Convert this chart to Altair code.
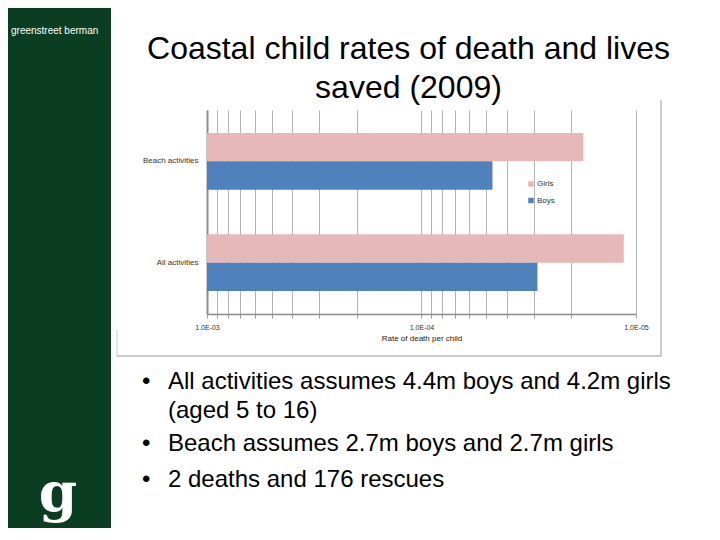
import altair as alt
import pandas as pd

# ---- data ----
categories = ["Beach activities", "All activities"]
series = ["Girls", "Boys"]
girls_rate = [1.76e-5, 1.14e-5]
boys_rate = [4.67e-5, 2.88e-5]
tick_values = [1e-3, 9e-4, 8e-4, 7e-4, 6e-4, 5e-4, 4e-4, 3e-4, 2e-4,
               1e-4, 9e-5, 8e-5, 7e-5, 6e-5, 5e-5, 4e-5, 3e-5, 2e-5, 1e-5]
title_lines = ["Coastal child rates of death and lives", "saved (2009)"]
bullet_lines = ["All activities assumes 4.4m boys and 4.2m girls",
                "(aged 5 to 16)",
                "Beach assumes 2.7m boys and 2.7m girls",
                "2 deaths and 176 rescues"]
brand = "greenstreet berman"

rows = []
for i, c in enumerate(categories):
    rows.append({"activity": c, "sex": "Girls", "rate": girls_rate[i]})
    rows.append({"activity": c, "sex": "Boys", "rate": boys_rate[i]})
df = pd.DataFrame(rows)

FONT = "Liberation Sans"
GREEN = "#0b3d22"

label_expr = ("abs(log(datum.value)/LN10 - round(log(datum.value)/LN10)) < 0.001 ? "
              "'1.0E-0' + (-round(log(datum.value)/LN10)) : ''")

bars = alt.Chart(df).mark_bar().encode(
    y=alt.Y("activity:N", sort=categories,
            scale=alt.Scale(paddingInner=0.44, paddingOuter=0.226),
            axis=alt.Axis(title=None, ticks=False, labelPadding=9, labelFontSize=8,
                          labelColor="#333333", domainColor="#8c8c8c", domainWidth=2,
                          labelFont=FONT)),
    yOffset=alt.YOffset("sex:N", sort=series,
                        scale=alt.Scale(paddingInner=0, paddingOuter=0)),
    x=alt.X("rate:Q",
            scale=alt.Scale(type="log", domain=[1e-5, 1e-3], reverse=True, nice=False),
            axis=alt.Axis(values=tick_values, labelExpr=label_expr, grid=True,
                          gridColor="#b3b3b3", gridWidth=1, tickSize=4,
                          tickColor="#a0a0a0", domainColor="#8c8c8c", domainWidth=1.5,
                          labelFontSize=7, labelColor="#333333", labelPadding=5,
                          labelOverlap=False, labelFlush=False, labelFont=FONT,
                          title="Rate of death per child", titleFontSize=8,
                          titleFontWeight="normal", titleColor="#222222",
                          titlePadding=4, titleFont=FONT)),
    x2=alt.datum(0.001),
    color=alt.Color("sex:N", sort=series,
                    scale=alt.Scale(domain=series, range=["#e6b9b8", "#4f81bd"]),
                    legend=alt.Legend(title=None, orient="none", legendX=320, legendY=70,
                                      symbolType="square", symbolSize=30,
                                      labelFontSize=8, labelFont=FONT, labelOffset=2,
                                      rowPadding=8.5, padding=0,
                                      labelColor="#333333")),
)

one = alt.Data(values=[{"k": 1}])

panel = alt.Chart(one).mark_rect(color=GREEN).encode(
    x=alt.value(-210), x2=alt.value(-96), y=alt.value(-112), y2=alt.value(440))

box_right = alt.Chart(one).mark_rule(color="#9a9a9a", strokeWidth=1).encode(
    x=alt.value(454), y=alt.value(-10), y2=alt.value(246))
box_bottom = alt.Chart(one).mark_rule(color="#9a9a9a", strokeWidth=1).encode(
    x=alt.value(-90), x2=alt.value(454), y=alt.value(246))
box_left = alt.Chart(one).mark_rule(color="#c8c8c8", strokeWidth=1).encode(
    x=alt.value(-90), y=alt.value(220), y2=alt.value(246))

brand_txt = alt.Chart(one).mark_text(align="left", baseline="middle", fontSize=10,
                                     font=FONT, color="white").encode(
    x=alt.value(-196), y=alt.value(-79), text=alt.value(brand))

logo = alt.Chart(one).mark_text(align="center", baseline="alphabetic", fontSize=55,
                                font="DejaVu Serif", fontWeight="bold", color="white").encode(
    x=alt.value(-149), y=alt.value(401), text=alt.value("g"))

title = alt.Chart(one).mark_text(align="center", baseline="alphabetic", fontSize=32,
                                 font=FONT, color="black", lineHeight=39).encode(
    x=alt.value(201.5), y=alt.value(-51.5), text=alt.value(title_lines))

bullet_y = [278.5, 307.5, 341, 377]
bullet_has_dot = [True, False, True, True]
layers = [panel, box_right, box_bottom, box_left, bars, brand_txt, logo, title]
for line, by, dot in zip(bullet_lines, bullet_y, bullet_has_dot):
    layers.append(alt.Chart(one).mark_text(align="left", baseline="alphabetic",
                                           fontSize=24, font=FONT, color="black").encode(
        x=alt.value(-39), y=alt.value(by), text=alt.value(line)))
    if dot:
        layers.append(alt.Chart(one).mark_text(align="left", baseline="alphabetic",
                                               fontSize=24, font=FONT, color="black").encode(
            x=alt.value(-65), y=alt.value(by), text=alt.value("\u2022")))

chart = alt.layer(*layers).properties(
    width=429, height=204,
    padding={"left": 199, "top": 102, "right": 76, "bottom": 214},
    autosize=alt.AutoSizeParams(type="none"),
    background="white",
).configure_view(strokeWidth=0)

chart.save("out.html", embed_options={"renderer": "svg", "actions": False})
